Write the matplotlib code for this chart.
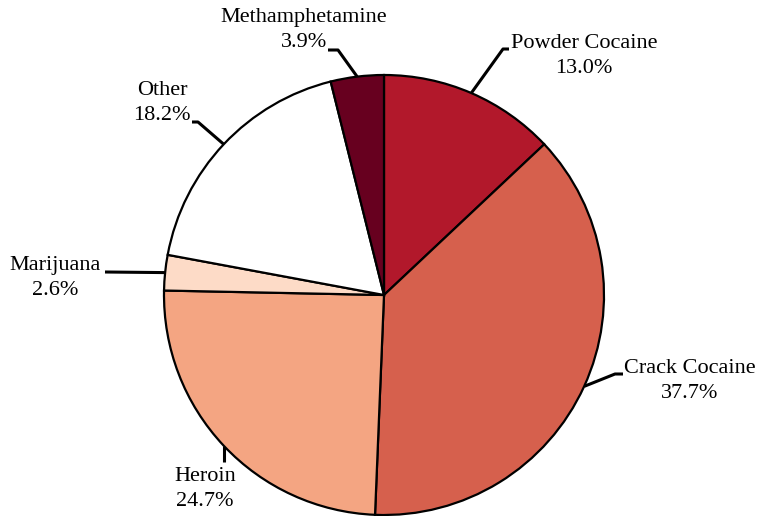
import numpy as np
import matplotlib.pyplot as plt

plt.rcParams['font.family'] = ['Liberation Serif', 'DejaVu Serif']

# Share of offenders by drug type (percent)
drugs = ['Powder Cocaine', 'Crack Cocaine', 'Heroin', 'Marijuana', 'Other', 'Methamphetamine']
shares = [13.0, 37.7, 24.7, 2.6, 18.2, 3.9]
colors = ['#B2182B', '#D6604D', '#F4A582', '#FDDBC7', '#FFFFFF', '#67001F']

# label layout: text centre, elbow point, end of the leader next to the text
# (data units = pixels, pie centre at 0,0)
textPos = [(200, 239), (306, -86), (-179, -194), (-329, 17), (-222, 192), (-80, 265)]
elbows = [(119, 246), (231, -79), (None, -167), (-279, 23), (-186, 173), (-46, 245)]
ends = [(125, 246), (239, -79), (None, -167), (-279, 23), (-192, 173), (-56, 245)]

radius = 220

fig = plt.figure(figsize=(7.58, 5.16), dpi=100)
ax = fig.add_axes([0, 0, 1, 1])
wedges, _ = ax.pie(shares, colors=colors, startangle=90, counterclock=False,
                   radius=radius, center=(0, 0),
                   wedgeprops=dict(edgecolor='black', linewidth=1.6))

for wedge, name, share, tpos, elbow, end in zip(wedges, drugs, shares, textPos, elbows, ends):
    midAngle = np.deg2rad((wedge.theta1 + wedge.theta2) / 2)
    edgeX = radius * np.cos(midAngle)
    edgeY = radius * np.sin(midAngle)
    ex = edgeX if elbow[0] is None else elbow[0]
    nx = edgeX if end[0] is None else end[0]
    ax.plot([edgeX, ex, nx], [edgeY, elbow[1], end[1]], color='black', lw=2.2,
            solid_capstyle='butt', zorder=0.5)
    ax.text(tpos[0], tpos[1], f'{name}\n{share:.1f}%', ha='center', va='center',
            fontsize=16, linespacing=1.45)

ax.set_xlim(-384, 758 - 384)
ax.set_ylim(-221, 295)
ax.set_aspect('equal')
ax.axis('off')

fig.savefig('out.png', dpi=100)
